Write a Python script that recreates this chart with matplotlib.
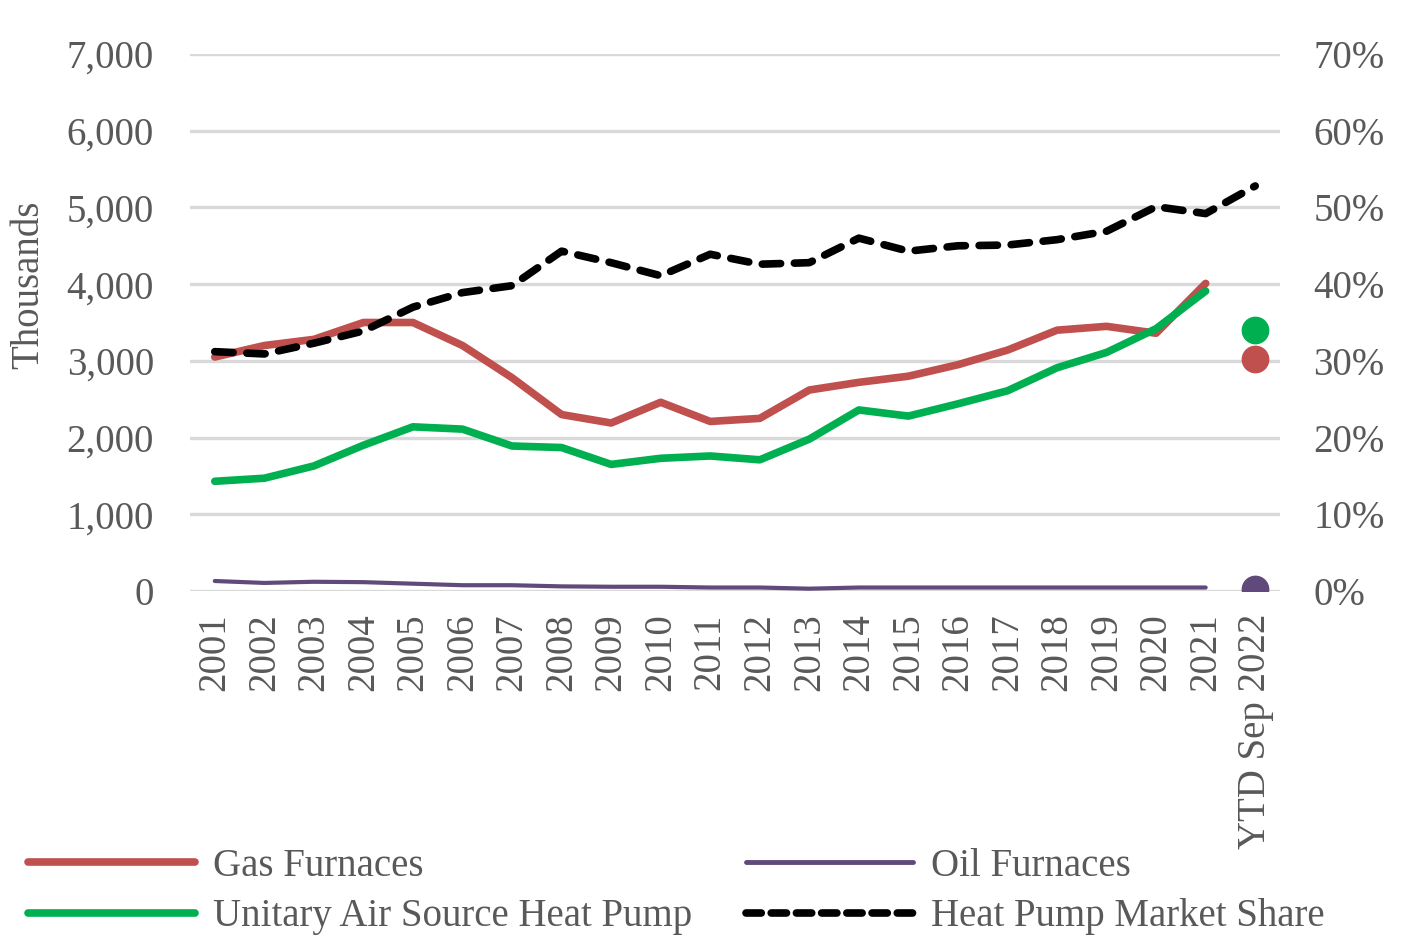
import matplotlib.pyplot as plt
import numpy as np
from matplotlib.lines import Line2D
from matplotlib.ticker import FuncFormatter

plt.rcParams["font.family"] = ["Liberation Serif", "DejaVu Serif"]

TEXT = "#595959"
GAS_COLOR = "#C0504D"
HP_COLOR = "#00B050"
OIL_COLOR = "#604A7B"
GRID = "#D9D9D9"

years = [str(y) for y in range(2001, 2022)] + ["YTD Sep 2022"]

gas_furnaces = [3050, 3200, 3280, 3500, 3500, 3200, 2780, 2300, 2190, 2460, 2210,
                2250, 2620, 2720, 2800, 2950, 3140, 3400, 3450, 3360, 4010]
heat_pumps = [1430, 1470, 1630, 1900, 2140, 2110, 1890, 1870, 1650, 1730, 1760,
              1710, 1980, 2360, 2280, 2440, 2610, 2910, 3110, 3420, 3910]
oil_furnaces = [130, 105, 120, 115, 95, 75, 75, 60, 55, 55, 45,
                45, 30, 45, 45, 45, 45, 45, 45, 45, 45]
market_share = [31.2, 30.9, 32.3, 33.9, 37.0, 38.9, 39.8, 44.3, 42.8, 41.1, 43.9,
                42.6, 42.8, 46.0, 44.3, 45.0, 45.1, 45.8, 46.9, 50.1, 49.2, 52.8]

gas_2022 = 3020
hp_2022 = 3400
oil_2022 = 20


def main() -> None:
    fig = plt.figure(figsize=(14.2, 9.43), dpi=100)
    ax = fig.add_axes([0.1338, 0.3733, 0.7676, 0.5694])
    ax2 = ax.twinx()

    x = np.arange(len(years))
    xh = x[:-1]

    for yv in range(0, 7001, 1000):
        ax.axhline(yv, color=GRID, linewidth=2.4, zorder=0)

    ax.plot(xh, gas_furnaces, color=GAS_COLOR, linewidth=5.5, solid_capstyle="round", zorder=3)
    ax.plot(xh, heat_pumps, color=HP_COLOR, linewidth=5.5, solid_capstyle="round", zorder=3)
    ax.plot(xh, oil_furnaces, color=OIL_COLOR, linewidth=3.0, solid_capstyle="round", zorder=3)
    ax.scatter([x[-1]], [gas_2022], s=360, color=GAS_COLOR, zorder=4)
    ax.scatter([x[-1]], [hp_2022], s=360, color=HP_COLOR, zorder=4)
    ax.scatter([x[-1]], [oil_2022], s=360, color=OIL_COLOR, zorder=4)

    ax2.plot(x, np.array(market_share) / 100, color="black", linewidth=5.5,
             dashes=(2.4, 1.8), dash_capstyle="round", zorder=5)

    ax.set_xlim(-0.5, len(years) - 0.5)
    ax.set_ylim(0, 7000)
    ax2.set_ylim(0, 0.7)
    ax.set_yticks(range(0, 7001, 1000))
    ax.yaxis.set_major_formatter(FuncFormatter(lambda v, p: f"{int(v):,}"))
    ax2.set_yticks(np.arange(0, 0.71, 0.1))
    ax2.yaxis.set_major_formatter(FuncFormatter(lambda v, p: f"{v * 100:.0f}%"))
    ax.set_xticks(x)
    ax.set_xticklabels(years, rotation=90)

    for a in (ax, ax2):
        for s in a.spines.values():
            s.set_visible(False)
        a.tick_params(length=0, colors=TEXT, labelsize=28)
    ax.tick_params(axis="y", pad=26)
    ax2.tick_params(axis="y", pad=24)
    ax.tick_params(axis="x", pad=16)

    ax.set_ylabel("Thousands", color=TEXT, fontsize=28)
    ax.yaxis.set_label_coords(-0.131, 0.57)

    handles = [
        Line2D([], [], color=GAS_COLOR, linewidth=5.5, solid_capstyle="round"),
        Line2D([], [], color=HP_COLOR, linewidth=5.5, solid_capstyle="round"),
        Line2D([], [], color=OIL_COLOR, linewidth=3.5, solid_capstyle="round"),
        Line2D([], [], color="black", linewidth=5.5, dashes=(2.0, 1.3), dash_capstyle="round"),
    ]
    labels = ["Gas Furnaces", "Unitary Air Source Heat Pump",
              "Oil Furnaces", "Heat Pump Market Share"]
    fig.legend(handles, labels, ncol=2, loc="lower left", bbox_to_anchor=(0.0087, -0.0085),
               borderaxespad=0, frameon=False, fontsize=28, labelcolor=TEXT,
               handlelength=4.3, handletextpad=0.45, columnspacing=1.4, labelspacing=0.35)

    fig.savefig("out.png", dpi=100)
    plt.close(fig)


if __name__ == "__main__":
    main()
